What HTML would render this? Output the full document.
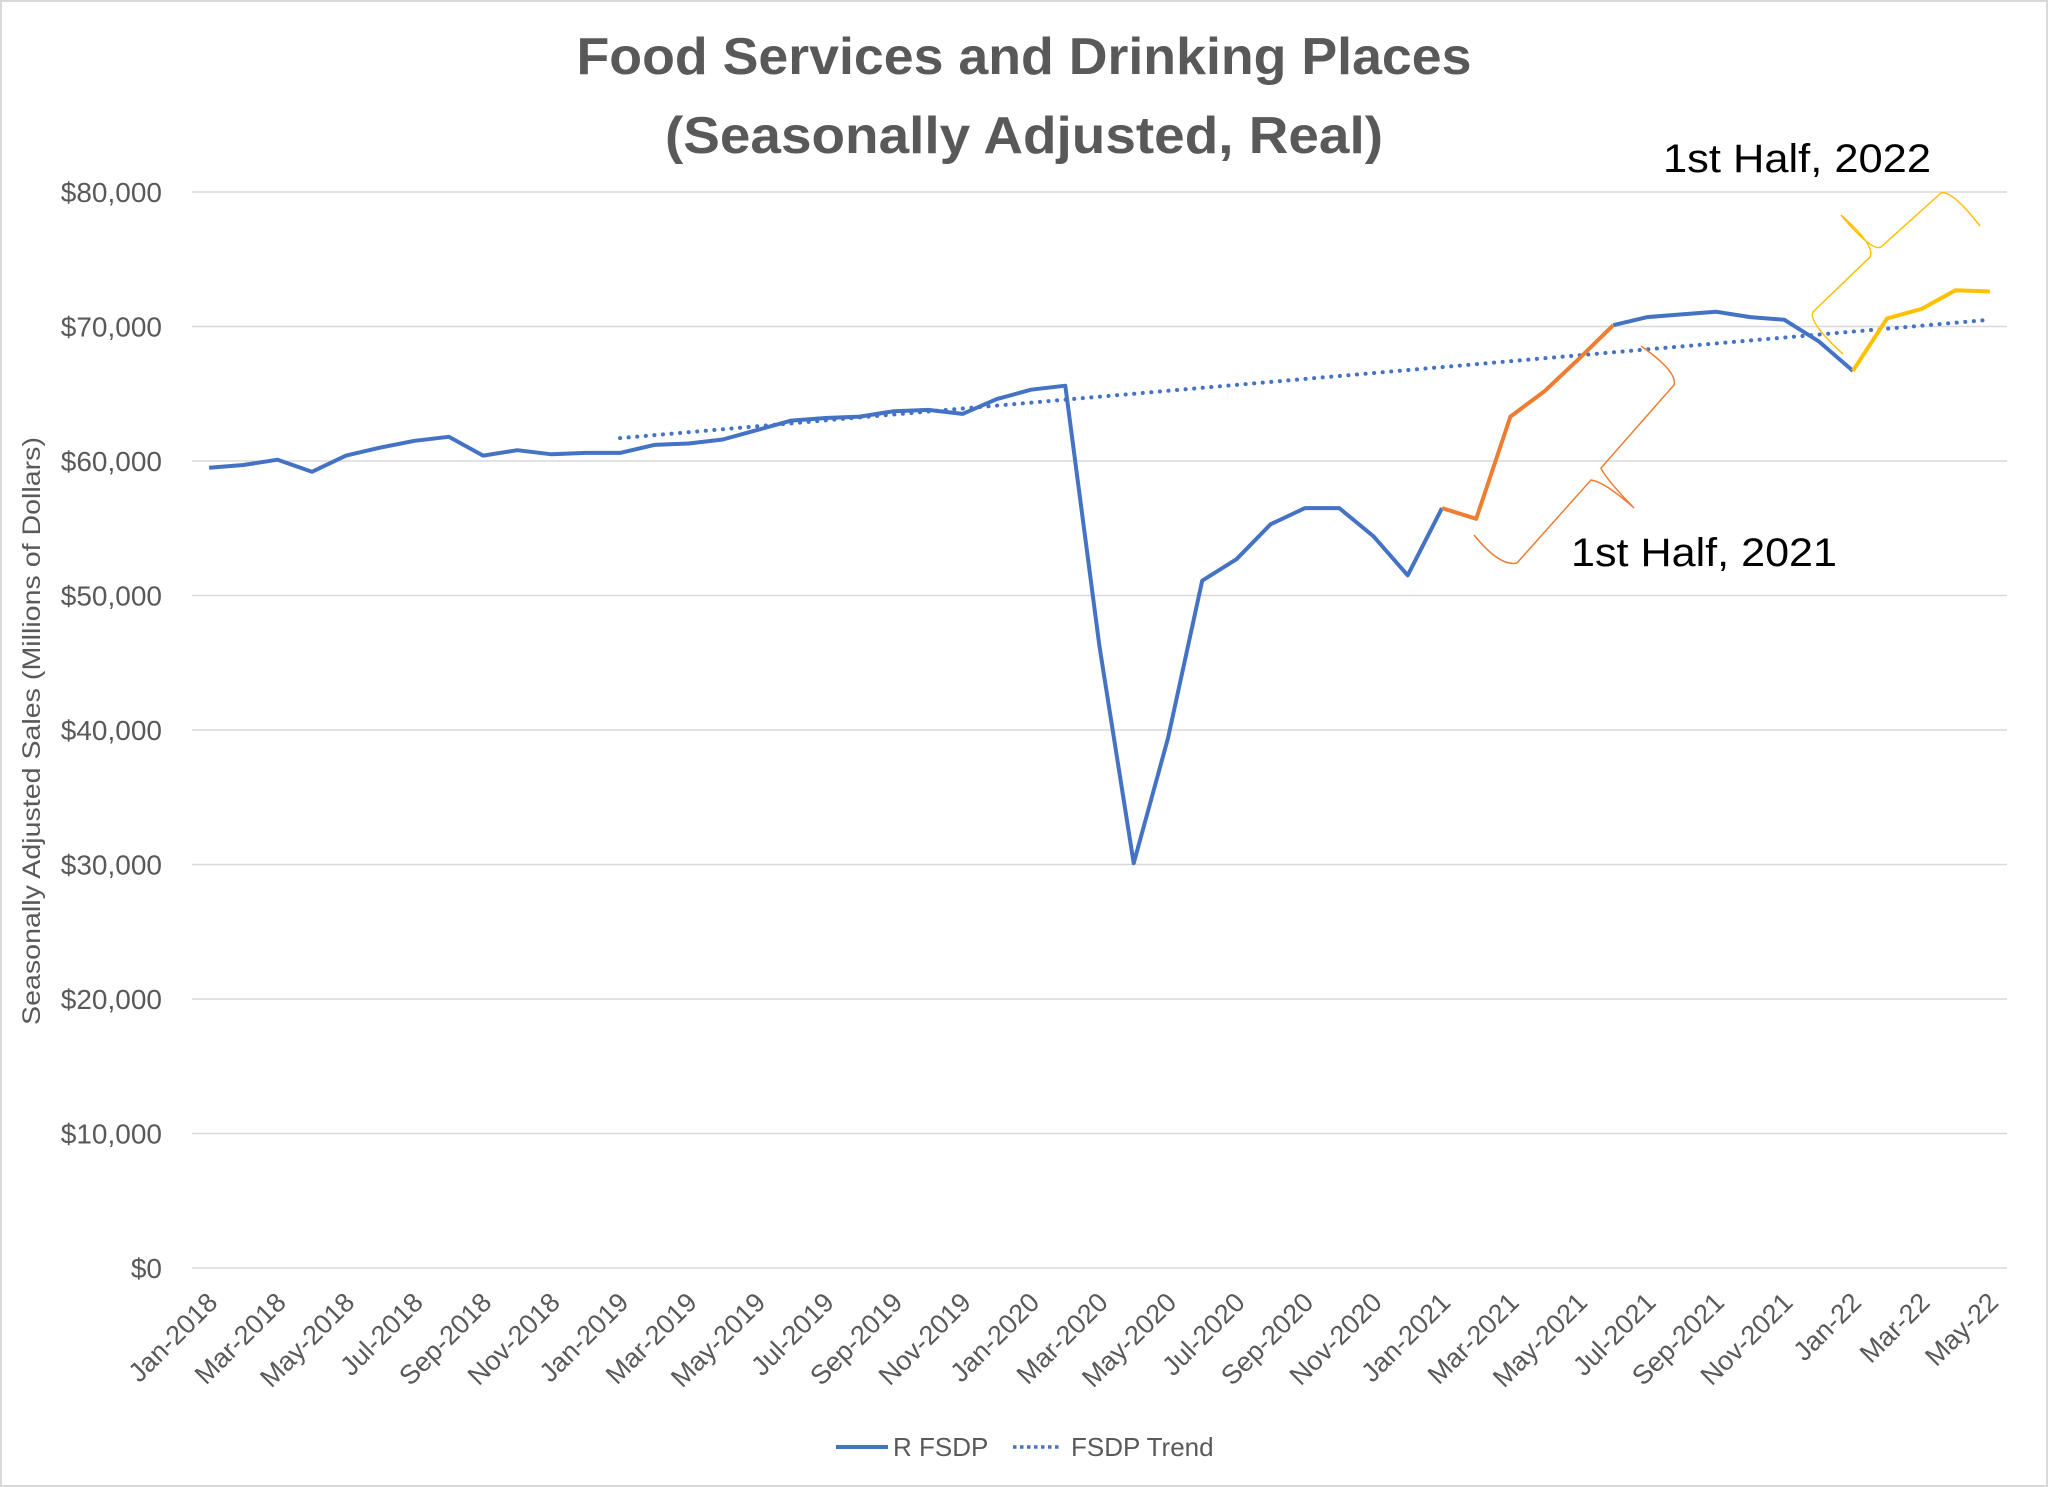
<!DOCTYPE html>
<html><head><meta charset="utf-8"><style>
html,body{margin:0;padding:0;background:#fff;}
svg{display:block;font-family:"Liberation Sans",sans-serif;}
</style></head><body>
<svg id="chart" width="2048" height="1487" viewBox="0 0 2048 1487" xmlns="http://www.w3.org/2000/svg">
<rect x="1" y="1" width="2046" height="1485" fill="#fff" stroke="#d9d9d9" stroke-width="2"/>
<text x="1024" y="74" text-anchor="middle" font-size="52" font-weight="bold" fill="#595959" textLength="895" lengthAdjust="spacingAndGlyphs">Food Services and Drinking Places</text>
<text x="1024" y="153" text-anchor="middle" font-size="52" font-weight="bold" fill="#595959" textLength="718" lengthAdjust="spacingAndGlyphs">(Seasonally Adjusted, Real)</text>
<g id="grid"></g><g id="yticks"></g><g id="xticks"></g><g id="series"></g>
<text transform="translate(40,731) rotate(-90)" text-anchor="middle" font-size="25" fill="#595959" textLength="588" lengthAdjust="spacingAndGlyphs">Seasonally Adjusted Sales (Millions of Dollars)</text>
<text x="1663" y="172" font-size="40" fill="#000" textLength="268" lengthAdjust="spacingAndGlyphs">1st Half, 2022</text>
<text x="1571" y="566" font-size="40" fill="#000" textLength="266" lengthAdjust="spacingAndGlyphs">1st Half, 2021</text>
<path d="M1474,535 Q1500,567 1517,563 L1591,480 Q1605,482 1634,508 M1634,508 Q1605,478 1601,468 L1674,385 Q1678,372 1641,346" fill="none" stroke="#ed7d31" stroke-width="1.5"/>
<path d="M1841,215 Q1872,252 1881,247 L1941,193 Q1952,190 1980,226 M1841,215 Q1876,246 1870,257 L1813,312 Q1808,322 1843,354" fill="none" stroke="#ffc000" stroke-width="1.5"/>
<g>
<line x1="836" y1="1447" x2="888" y2="1447" stroke="#4472c4" stroke-width="4"/>
<text x="893" y="1456" font-size="26" fill="#595959">R FSDP</text>
<line x1="1013" y1="1447" x2="1062" y2="1447" stroke="#4472c4" stroke-width="3.5" stroke-dasharray="3.5 3.5"/>
<text x="1071" y="1456" font-size="26" fill="#595959">FSDP Trend</text>
</g>
</svg>
<script>
const months = ["Jan","Feb","Mar","Apr","May","Jun","Jul","Aug","Sep","Oct","Nov","Dec"];
const categories = [];
for (let y = 2018; y <= 2022; y++) for (let m = 0; m < 12; m++) { if (y === 2022 && m > 4) break; categories.push(months[m] + "-" + (y === 2022 ? "22" : y)); }
const values = [59.5,59.7,60.1,59.2,60.4,61.0,61.5,61.8,60.4,60.8,60.5,60.6,
60.6,61.2,61.3,61.6,62.3,63.0,63.2,63.3,63.7,63.8,63.5,64.6,
65.3,65.6,46.2,30.1,39.4,51.1,52.7,55.3,56.5,56.5,54.4,51.5,
56.5,55.7,63.3,65.2,67.6,70.1,70.7,70.9,71.1,70.7,70.5,68.9,
66.7,70.6,71.3,72.7,72.6];
const trendStart = [12, 61.7];
const trendEnd = [52, 70.5];
const yTicks = [0,10000,20000,30000,40000,50000,60000,70000,80000];
const orangeRange = [36, 41];
const yellowRange = [48, 52];

const NS = "http://www.w3.org/2000/svg";
const L = 192, R = 2007, Y0 = 1268, Y80 = 192;
const step = (R - L) / categories.length;
const xs = i => L + step * (i + 0.5);
const ys = v => Y0 - (v * 1000) / 80000 * (Y0 - Y80);
const yt = v => Y0 - v / 80000 * (Y0 - Y80);
function mk(tag, attrs, parent) { const e = document.createElementNS(NS, tag); for (const k in attrs) e.setAttribute(k, attrs[k]); parent.appendChild(e); return e; }

const grid = document.getElementById("grid"), yg = document.getElementById("yticks"), xg = document.getElementById("xticks"), sg = document.getElementById("series");
yTicks.forEach(t => {
  const ln = mk("line", {x1: L, x2: R, y1: yt(t), y2: yt(t), stroke: "#d9d9d9", "stroke-width": 1.5}, grid);
  
  
  const tx = mk("text", {x: 162, y: yt(t) + 10, "text-anchor": "end", "font-size": 28, fill: "#595959"}, yg);
  tx.textContent = "$" + t.toLocaleString("en-US");
  
  
});
categories.forEach((c, i) => {
  if (i % 2) return;
  const x = xs(i) + 10, y = 1304;
  const tx = mk("text", {x: x, y: y, "text-anchor": "end", "font-size": 27, fill: "#595959", transform: `rotate(-45 ${x} ${y})`}, xg);
  tx.textContent = c;
  
  
});
function seg(a, b, color, name) {
  const pts = [];
  for (let i = a; i <= b; i++) pts.push(xs(i).toFixed(1) + "," + ys(values[i]).toFixed(1));
  const p = mk("polyline", {points: pts.join(" "), fill: "none", stroke: color, "stroke-width": 4, "stroke-linejoin": "round"}, sg);
  
  
}
const tr = mk("line", {x1: xs(trendStart[0]), y1: ys(trendStart[1]), x2: xs(trendEnd[0]), y2: ys(trendEnd[1]), stroke: "#4472c4", "stroke-width": 4, "stroke-dasharray": "0.1 8.5", "stroke-linecap": "round"}, sg);


seg(0, orangeRange[0], "#4472c4", "r-fsdp-line-early");
seg(orangeRange[1], yellowRange[0], "#4472c4", "r-fsdp-line-late");
seg(orangeRange[0], orangeRange[1], "#ed7d31", "r-fsdp-2021-h1");
seg(yellowRange[0], yellowRange[1], "#ffc000", "r-fsdp-2022-h1");
</script>
</body></html>
